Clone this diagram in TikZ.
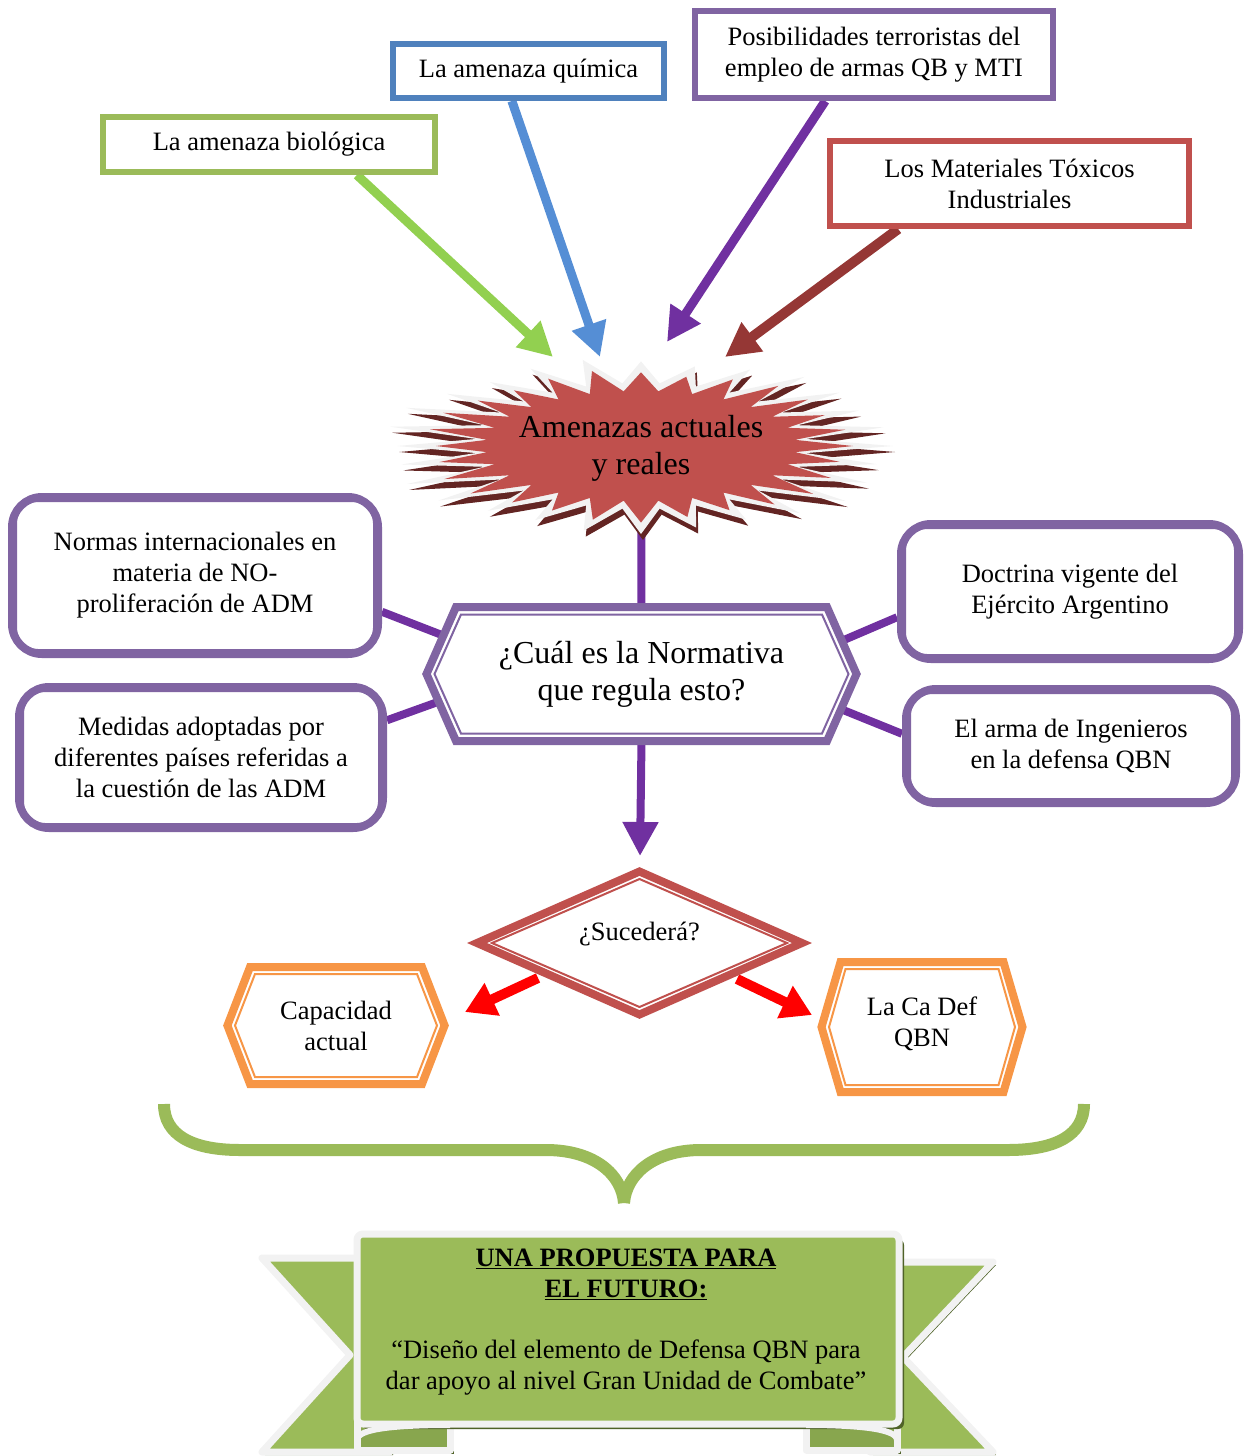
\documentclass[tikz,border=0pt]{standalone}
\usepackage{fontspec}
\setmainfont{Liberation Serif}
\usetikzlibrary{arrows.meta,calc}
\definecolor{bgreen}{HTML}{9BBB59}
\definecolor{rollgreen}{HTML}{88A64E}
\definecolor{agreen}{HTML}{92D050}
\definecolor{bblue}{HTML}{4F81BD}
\definecolor{ablue}{HTML}{558ED5}
\definecolor{bpurple}{HTML}{8064A2}
\definecolor{apurple}{HTML}{7030A0}
\definecolor{bred}{HTML}{C0504D}
\definecolor{adred}{HTML}{953735}
\definecolor{burstshadow}{HTML}{632523}
\definecolor{lgray}{HTML}{F2F2F2}
\definecolor{borange}{HTML}{F79646}
\definecolor{dkgreen}{HTML}{4F6228}
\pgfdeclarelayer{conn}
\pgfdeclarelayer{shapes}
\pgfsetlayers{conn,shapes,main}
\newcommand\myhex[6]{\path[#6] ({#1-#3/2-#5},#2) -- ({#1-#3/2},{#2-#4/2}) -- ({#1+#3/2},{#2-#4/2}) -- ({#1+#3/2+#5},#2) -- ({#1+#3/2},{#2+#4/2}) -- ({#1-#3/2},{#2+#4/2}) -- cycle;}
\tikzset{
 txt/.style={font=\fontsize{26.5}{31}\selectfont, align=center, inner sep=0pt, text=black},
 bigtxt/.style={font=\fontsize{32}{37}\selectfont, align=center, inner sep=0pt, text=black},
 topbox/.style={txt, draw=#1, line width=6pt, fill=white},
 rbox/.style={txt, draw=bpurple, line width=8pt, fill=white, rounded corners=30pt},
 rinner/.style={draw=bpurple, line width=2pt, rounded corners=22pt},
 fat/.style={line width=9pt, draw=#1, -{Triangle[length=34pt,width=34pt]}},
 link/.style={line width=8pt, draw=apurple},
 redarrow/.style={line width=10pt, draw=red, -{Triangle[length=30pt,width=34pt]}},
 band/.style={draw=lgray, line width=7pt, line join=round},
}
\begin{document}
\begin{tikzpicture}[x=1pt,y=-1pt]
\useasboundingbox (0,0) rectangle (1251,1456);

% ---------- top boxes ----------
\node[topbox=bgreen, minimum width=332pt, minimum height=55pt] (bio) at (269,144.5) {La amenaza biológica};
\node[topbox=bblue, minimum width=271pt, minimum height=54pt] (quim) at (528.5,71) {La amenaza química};
\node[topbox=bpurple, minimum width=358pt, minimum height=87pt] (posib) at (874,54.5) {Posibilidades terroristas del\\empleo de armas QB y MTI};
\node[topbox=bred, minimum width=359pt, minimum height=85pt] (mti) at (1009.5,183.5) {Los Materiales Tóxicos\\Industriales};

\coordinate (tipG) at (553,357);
\coordinate (tipB) at (600,357);
\coordinate (tipP) at (667,342);
\coordinate (tipR) at (725,357);

% ---------- shapes layer ----------
\begin{pgfonlayer}{shapes}
\begin{scope}[shift={(641,446)}]
 \fill[burstshadow, shift={(2,6)}] plot[variable=\t, samples at={0,...,55}] ({ifthenelse(mod(\t,2)==0,252*(1+0.04*sin(\t*137)),166)*cos(\t*6.428571)}, {ifthenelse(mod(\t,2)==0,85*(1+0.04*sin(\t*137)),63)*sin(\t*6.428571)}) -- cycle;
 \fill[lgray] plot[variable=\t, samples at={0,...,55}] ({ifthenelse(mod(\t,2)==0,252*(1+0.04*sin(\t*137)),166)*cos(\t*6.428571)}, {ifthenelse(mod(\t,2)==0,85*(1+0.04*sin(\t*137)),63)*sin(\t*6.428571)}) -- cycle;
 \fill[bred] plot[variable=\t, samples at={0,...,55}] ({ifthenelse(mod(\t,2)==0,212*(1+0.04*sin(\t*137)),155)*cos(\t*6.428571)}, {ifthenelse(mod(\t,2)==0,74*(1+0.04*sin(\t*137)),55)*sin(\t*6.428571)}) -- cycle;
\end{scope}
\myhex{641.5}{674}{371}{134}{29.5}{draw=bpurple, line width=8pt, fill=white}
\myhex{641.5}{674}{361}{119}{26.5}{draw=bpurple, line width=2pt}
\path[draw=bred, line width=8pt, fill=white] (477,943) -- (639.5,871.5) -- (802,943) -- (639.5,1014.5) -- cycle;
\path[draw=bred, line width=2pt] (492,943) -- (639.5,879) -- (787,943) -- (639.5,1007) -- cycle;
\myhex{336}{1025.5}{172}{117}{22.6}{draw=borange, line width=8pt, fill=white}
\myhex{336}{1025.5}{162}{103}{20}{draw=borange, line width=2pt}
\myhex{922}{1027}{163}{130}{19}{draw=borange, line width=8pt, fill=white}
\myhex{922}{1027}{153}{116}{16.5}{draw=borange, line width=2pt}
\end{pgfonlayer}

% ---------- central nodes ----------
\node[bigtxt] (amen) at (641,448.5) {Amenazas actuales\\y reales};
\node[bigtxt, minimum width=371pt, minimum height=134pt] (norm) at (641.5,674) {¿Cuál es la Normativa\\que regula esto?};

\node[rbox, minimum width=366pt, minimum height=157pt] (nbox) at (195,575.5) {Normas internacionales en\\materia de NO-\\proliferación de ADM};
\draw[rinner] ([shift={(8,8)}]nbox.north west) rectangle ([shift={(-8,-8)}]nbox.south east);
\node[rbox, minimum width=364pt, minimum height=141pt] (mbox) at (201,757.5) {Medidas adoptadas por\\diferentes países referidas a\\la cuestión de las ADM};
\draw[rinner] ([shift={(8,8)}]mbox.north west) rectangle ([shift={(-8,-8)}]mbox.south east);
\node[rbox, minimum width=338pt, minimum height=135pt] (dbox) at (1070,591.5) {Doctrina vigente del\\Ejército Argentino};
\draw[rinner] ([shift={(8,8)}]dbox.north west) rectangle ([shift={(-8,-8)}]dbox.south east);
\node[rbox, minimum width=330pt, minimum height=114pt] (abox) at (1071,746) {El arma de Ingenieros\\en la defensa QBN};
\draw[rinner] ([shift={(8,8)}]abox.north west) rectangle ([shift={(-8,-8)}]abox.south east);

\node[txt] (suc) at (639.5,934) {¿Sucederá?};
\node[txt, minimum width=172pt, minimum height=117pt] (cap) at (336,1025.5) {Capacidad\\actual};
\node[txt, minimum width=163pt, minimum height=130pt] (qbn) at (922,1024) {La Ca Def\\QBN};

\coordinate (sucT) at (640,856);
\coordinate (sucL) at (538,978);
\coordinate (sucR) at (737,979);
\coordinate (capT) at (465,1012);
\coordinate (qbnT) at (812,1015);

% ---------- connectors ----------
\begin{pgfonlayer}{conn}
\draw[fat=agreen] ($(bio.south west)!0.76!(bio.south east)$) -- (tipG);
\draw[fat=ablue] ($(quim.south west)!0.44!(quim.south east)$) -- (tipB);
\draw[fat=apurple] ($(posib.south west)!0.366!(posib.south east)$) -- (tipP);
\draw[fat=adred, line width=10pt] ($(mti.south west)!0.195!(mti.south east)$) -- (tipR);
\draw[link] (amen) -- (norm.north);
\draw[link] ($(nbox.north east)!0.72!(nbox.south east)$) -- ($(norm.north west)!0.25!(norm.south west)$);
\draw[link] ($(mbox.north east)!0.25!(mbox.south east)$) -- ($(norm.north west)!0.66!(norm.south west)$);
\draw[link] ($(dbox.north west)!0.68!(dbox.south west)$) -- ($(norm.north east)!0.30!(norm.south east)$);
\draw[link] ($(abox.north west)!0.40!(abox.south west)$) -- ($(norm.north east)!0.72!(norm.south east)$);
\draw[fat=apurple, line width=8pt] (norm.south) -- (sucT);
\draw[redarrow] (sucL) -- (capT);
\draw[redarrow] (sucR) -- (qbnT);
\end{pgfonlayer}

% ---------- brace ----------
\draw[bgreen, line width=12pt] (164,1104) .. controls (164,1135) and (192,1150) .. (240,1150) -- (546,1150) .. controls (595,1150) and (622,1175) .. (624,1203);
\draw[bgreen, line width=12pt] (1084,1104) .. controls (1084,1135) and (1056,1150) .. (1008,1150) -- (701,1150) .. controls (653,1150) and (626,1175) .. (624,1203);

% ---------- banner ----------
\fill[dkgreen, shift={(3,3)}] (262,1258) -- (390,1258) -- (390,1452) -- (262,1452) -- (350,1355) -- cycle;
\fill[dkgreen, shift={(3,3)}] (993,1262) -- (870,1262) -- (870,1452) -- (993,1452) -- (903,1357) -- cycle;
\path[band, fill=bgreen] (262,1258) -- (390,1258) -- (390,1452) -- (262,1452) -- (350,1355) -- cycle;
\path[band, fill=bgreen] (993,1262) -- (870,1262) -- (870,1452) -- (993,1452) -- (903,1357) -- cycle;
\fill[dkgreen] (361,1412) rectangle (454,1454);
\fill[dkgreen] (810,1412) rectangle (901,1454);
\path[band, fill=rollgreen] (357,1412) -- (357,1450) -- (450,1450) -- (450,1412);
\path[band, fill=rollgreen] (897,1412) -- (897,1450) -- (806,1450) -- (806,1412);
\fill[dkgreen, rounded corners=6pt] (362,1239) rectangle (904,1429);
\path[band, fill=bgreen, rounded corners=6pt] (357,1234) rectangle (899,1424);
\draw[lgray, line width=6pt] (357,1440) .. controls (357,1428) and (400,1425) .. (450,1425);
\draw[lgray, line width=6pt] (897,1440) .. controls (897,1428) and (853,1425) .. (806,1425);
\node[txt] (prop) at (626,1322) {\textbf{\underline{UNA PROPUESTA PARA}}\\\textbf{\underline{EL FUTURO:}}\\[30pt]“Diseño del elemento de Defensa QBN para\\dar apoyo al nivel Gran Unidad de Combate”};
\end{tikzpicture}
\end{document}
